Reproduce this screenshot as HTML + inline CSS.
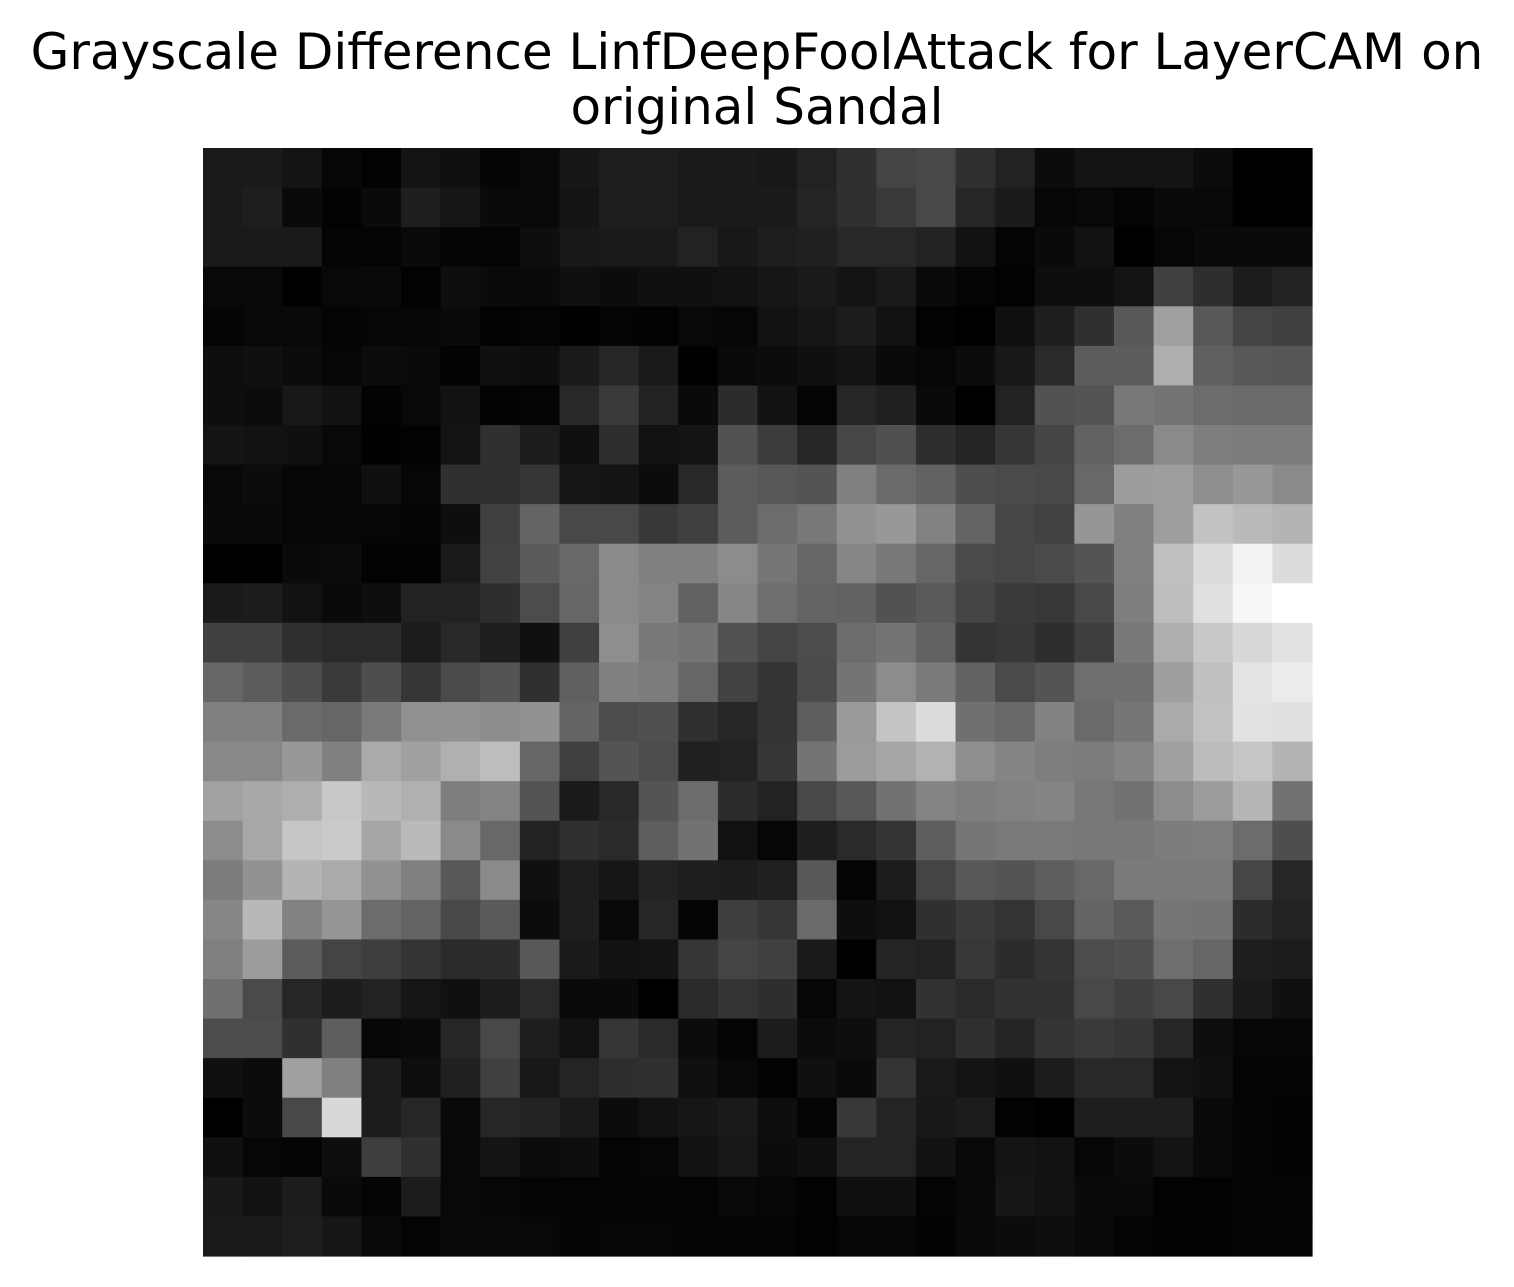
<!DOCTYPE html>
<html>
<head>
<meta charset="utf-8">
<style>
  html,body{margin:0;padding:0;background:#fff;}
  body{width:1514px;height:1287px;overflow:hidden;}
  svg{display:block;}
</style>
</head>
<body>
<svg id="chart" width="1514" height="1287" viewBox="0 0 1514 1287" xmlns="http://www.w3.org/2000/svg">
  <rect x="0" y="0" width="1514" height="1287" fill="#ffffff"/>
  <text x="757" y="69" text-anchor="middle" font-family="DejaVu Sans, Liberation Sans, sans-serif" font-size="50" fill="#000">Grayscale Difference LinfDeepFoolAttack for LayerCAM on</text>
  <text x="757" y="124" text-anchor="middle" font-family="DejaVu Sans, Liberation Sans, sans-serif" font-size="50" fill="#000">original Sandal</text>
  <g id="cells"></g>
</svg>
<script>
// Grid row values (grayscale intensity 0-255, hex), 28 rows x 28 columns
const rowValues = [
"1a 1a 14 06 02 14 10 05 08 16 1e 1e 1a 1a 18 22 30 44 48 30 22 0c 14 14 14 0c 00 00",
"1a 1e 0a 02 0a 1e 16 0a 08 14 1e 1e 1a 1a 1a 24 30 3a 48 26 1a 06 08 04 0a 08 00 00",
"1a 1a 1a 04 04 0a 05 04 0e 18 1a 1a 22 18 1e 20 28 28 22 12 04 0a 12 00 06 0a 0a 0a",
"08 08 01 08 0a 02 0e 0a 0a 10 0c 10 10 12 16 1a 14 1a 0a 04 02 0e 0e 14 40 2e 1c 22",
"05 08 08 04 06 06 0a 02 04 01 04 02 08 06 12 16 1c 12 02 00 10 1e 30 58 a0 58 44 40",
"0e 10 0c 06 0c 0a 02 10 0e 1a 26 1a 01 0a 0c 10 14 0a 06 0c 18 2a 5c 5c ae 60 58 56",
"0e 0c 18 12 03 08 12 03 04 28 3a 22 0a 2c 12 04 26 20 0a 00 22 52 54 78 74 6c 6a 6a",
"14 12 10 08 01 02 14 30 1c 10 2e 12 14 52 3c 26 46 50 2e 24 36 44 62 6c 8a 7e 7c 7c",
"08 0c 06 06 10 06 30 30 36 16 14 0c 28 5c 58 54 80 6a 62 4e 4a 48 68 9c 9e 8e 98 8a",
"0a 0a 06 06 06 04 0e 40 64 48 48 38 40 5c 6c 78 92 98 82 64 46 42 96 80 9e c2 ba b4",
"00 00 0a 0c 02 02 1a 42 5a 68 8a 80 80 8c 76 66 86 78 66 4a 46 4a 54 80 c0 dc f2 dc",
"1a 1c 12 0a 0e 22 22 2e 4c 66 8a 84 62 86 6e 64 62 52 5a 44 3a 38 48 7e be e0 f8 ff",
"40 40 30 2a 2a 1c 28 1e 10 40 8e 78 74 52 44 4c 6c 74 62 34 38 2e 3e 78 ae c8 d8 e2",
"66 5c 4e 3a 4e 36 4a 54 30 60 80 7c 66 42 34 4a 74 8c 7a 62 4a 54 6e 70 9e c0 e4 ec",
"80 80 6a 66 7a 90 92 8c 92 64 4c 50 30 26 34 5e 9a c4 dc 70 68 82 6a 76 aa c2 e2 e0",
"88 88 98 80 aa a0 b0 be 66 40 54 4c 20 22 36 74 9c a6 b2 8e 84 7e 7c 84 a0 bc c6 b4",
"a2 a8 ae c8 b8 b0 7e 84 54 1a 28 54 6c 2c 22 48 58 72 84 7e 82 84 78 72 8c 9c b6 72",
"8c a8 c6 ca a6 ba 8a 68 22 30 2a 5e 72 12 06 1e 2a 34 5e 76 7a 7a 78 78 7c 7e 6c 4e",
"7c 92 b4 aa 92 80 58 8a 10 1e 16 22 1e 1c 20 58 04 1c 44 58 54 5e 68 7a 7a 7a 46 26",
"86 b8 82 96 6c 64 48 5a 0c 1e 08 26 04 3e 36 6a 0e 12 30 3a 34 48 64 5a 76 74 2c 22",
"80 9c 5c 44 3e 34 2a 2c 58 1a 12 14 36 44 40 1a 00 24 22 38 2c 34 4c 50 6e 66 1e 1c",
"70 4a 26 1c 22 16 10 1c 2a 0a 0a 00 2a 34 2e 06 14 12 32 2a 32 32 48 40 48 30 1a 10",
"4c 4c 30 5e 06 0a 26 48 1e 12 36 2a 0c 04 1c 0c 0e 24 22 30 24 34 3a 36 26 0e 06 06",
"10 0c a0 80 1c 0e 20 40 18 24 2e 30 10 08 02 10 0a 34 1a 14 10 1c 28 28 14 10 04 04",
"00 0c 48 d8 1c 26 08 26 22 1a 0c 12 16 1a 0e 04 38 24 18 1c 02 00 1e 1e 1e 0a 04 02",
"10 06 04 0e 3e 30 08 14 0c 0e 04 06 12 18 0c 10 24 24 12 08 14 12 06 0c 14 0a 04 02",
"18 12 1c 0a 04 1c 08 06 04 04 04 04 04 08 06 02 10 10 04 08 16 12 0a 0a 02 02 04 04",
"1a 1a 1e 16 0a 04 0a 0a 08 04 06 06 04 04 04 02 06 06 02 0a 0c 0e 0a 04 02 02 04 04"
];

const plotLeft = 203, plotTop = 148, plotW = 1109, plotH = 1108;
const grid = rowValues.map(r => r.trim().split(/\s+/).map(h => parseInt(h, 16)));
const nRows = grid.length, nCols = grid[0].length;
function xScale(c){ return plotLeft + c * plotW / nCols; }
function yScale(r){ return plotTop + r * plotH / nRows; }

const g = document.getElementById('cells');
const NS = 'http://www.w3.org/2000/svg';
for (let r = 0; r < nRows; r++) {
  for (let c = 0; c < nCols; c++) {
    const v = grid[r][c];
    const rect = document.createElementNS(NS, 'rect');
    const x0 = xScale(c), x1 = xScale(c + 1), y0 = yScale(r), y1 = yScale(r + 1);
    rect.setAttribute('x', x0.toFixed(2));
    rect.setAttribute('y', y0.toFixed(2));
    rect.setAttribute('width', (x1 - x0 + 0.6).toFixed(2));
    rect.setAttribute('height', (y1 - y0 + 0.6).toFixed(2));
    rect.setAttribute('fill', 'rgb(' + v + ',' + v + ',' + v + ')');
    
    
    g.appendChild(rect);
  }
}
</script>
</body>
</html>
